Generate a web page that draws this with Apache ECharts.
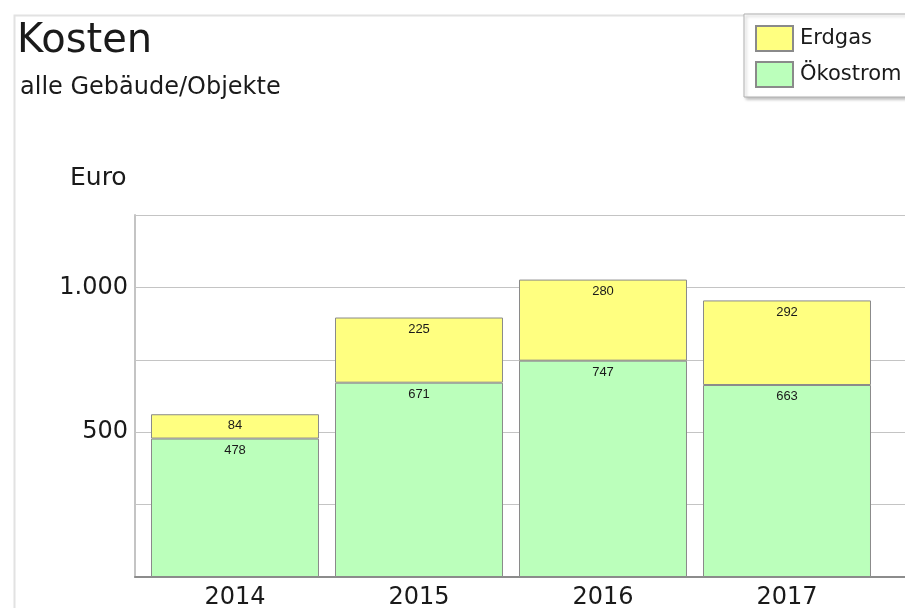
<!DOCTYPE html>
<html>
<head>
<meta charset="utf-8">
<script src="https://cdn.jsdelivr.net/npm/echarts@6/dist/echarts.min.js"></script>
<style>
  html, body { margin: 0; padding: 0; background: #fff; }
  #chart { width: 905px; height: 608px; }
</style>
</head>
<body>
<div id="chart"></div>
<script>
// Werte
const years = ['2014', '2015', '2016', '2017'];
const oekostrom = [478, 671, 747, 663];
const erdgas = [84, 225, 280, 292];
const yTicks = [500, 1000]; // nur diese Werte bekommen eine Beschriftung

const font = 'DejaVu Sans';
const chart = echarts.init(document.getElementById('chart'));

function euro(v) {
  return v.toString().replace(/\B(?=(\d{3})+(?!\d))/g, '.');
}

const options = {
  animation: false,
  backgroundColor: '#fff',
  title: [
    { text: 'Kosten', left: 17, top: 22, padding: 0,
      textStyle: { fontFamily: font, fontSize: 40, fontWeight: 'normal', color: '#1a1a1a' } },
    { text: 'alle Gebäude/Objekte', left: 20, top: 76, padding: 0,
      textStyle: { fontFamily: font, fontSize: 24, fontWeight: 'normal', color: '#1a1a1a' } },
    { text: 'Euro', left: 70, top: 166, padding: 0,
      textStyle: { fontFamily: font, fontSize: 25, fontWeight: 'normal', color: '#1a1a1a' } }
  ],
  graphic: [
    { type: 'rect', left: 12, top: 13, z: -1, silent: true,
      shape: { width: 1000, height: 1000 },
      style: { fill: 'none', stroke: '#e2e2e2', lineWidth: 2 } }
  ],
  legend: {
    orient: 'vertical',
    left: 744, top: 14,
    padding: [11, 40, 9, 11],
    icon: 'rect',
    itemWidth: 37, itemHeight: 25, itemGap: 9,
    data: ['Erdgas', 'Ökostrom'],
    backgroundColor: '#fff',
    borderColor: '#b0b0b0', borderWidth: 1,
    shadowColor: 'rgba(0,0,0,0.25)', shadowBlur: 3, shadowOffsetX: 2, shadowOffsetY: 2,
    textStyle: { fontFamily: font, fontSize: 21, color: '#1a1a1a', padding: [2, 0, 0, 2] }
  },
  grid: [
    // Hintergrund: Gitterlinien und Achsen
    { left: 135, right: 0, top: 215, bottom: 31, outerBoundsMode: 'none' },
    // Balken
    { left: 143, width: 736, top: 215, bottom: 31, outerBoundsMode: 'none' }
  ],
  xAxis: [
    { gridIndex: 0, type: 'category', data: years,
      axisLine: { lineStyle: { color: '#8c8c8c', width: 2 } },
      axisTick: { show: false }, axisLabel: { show: false } },
    { gridIndex: 1, type: 'category', data: years,
      axisLine: { show: false }, axisTick: { show: false },
      axisLabel: { fontFamily: font, fontSize: 24, color: '#1a1a1a', margin: 9 } }
  ],
  yAxis: [
    { gridIndex: 0, type: 'value', min: 0, max: 1250, interval: 250,
      axisLine: { show: true, lineStyle: { color: '#c4c4c4', width: 2 } },
      axisTick: { show: false },
      splitLine: { lineStyle: { color: '#c4c4c4', width: 1 } },
      axisLabel: {
        fontFamily: font, fontSize: 24, color: '#1a1a1a', margin: 7, padding: [3, 0, 0, 0],
        formatter: function (v) { return yTicks.indexOf(v) >= 0 ? euro(v) : ''; }
      } },
    { gridIndex: 1, type: 'value', min: 0, max: 1250, interval: 250, show: false }
  ],
  series: [
    { name: 'Ökostrom', type: 'bar', stack: 'kosten', xAxisIndex: 1, yAxisIndex: 1,
      data: oekostrom, barCategoryGap: '8.7%',
      itemStyle: { color: '#bbffbb', borderColor: '#8a8a8a', borderWidth: 1 },
      label: { show: true, position: 'insideTop', distance: 5,
        fontFamily: 'Liberation Sans', fontSize: 13, color: '#1a1a1a' } },
    { name: 'Erdgas', type: 'bar', stack: 'kosten', xAxisIndex: 1, yAxisIndex: 1,
      data: erdgas, barCategoryGap: '8.7%',
      itemStyle: { color: '#ffff80', borderColor: '#8a8a8a', borderWidth: 1 },
      label: { show: true, position: 'insideTop', distance: 5,
        fontFamily: 'Liberation Sans', fontSize: 13, color: '#1a1a1a' } }
  ]
};

chart.setOption(options);
</script>
</body>
</html>
